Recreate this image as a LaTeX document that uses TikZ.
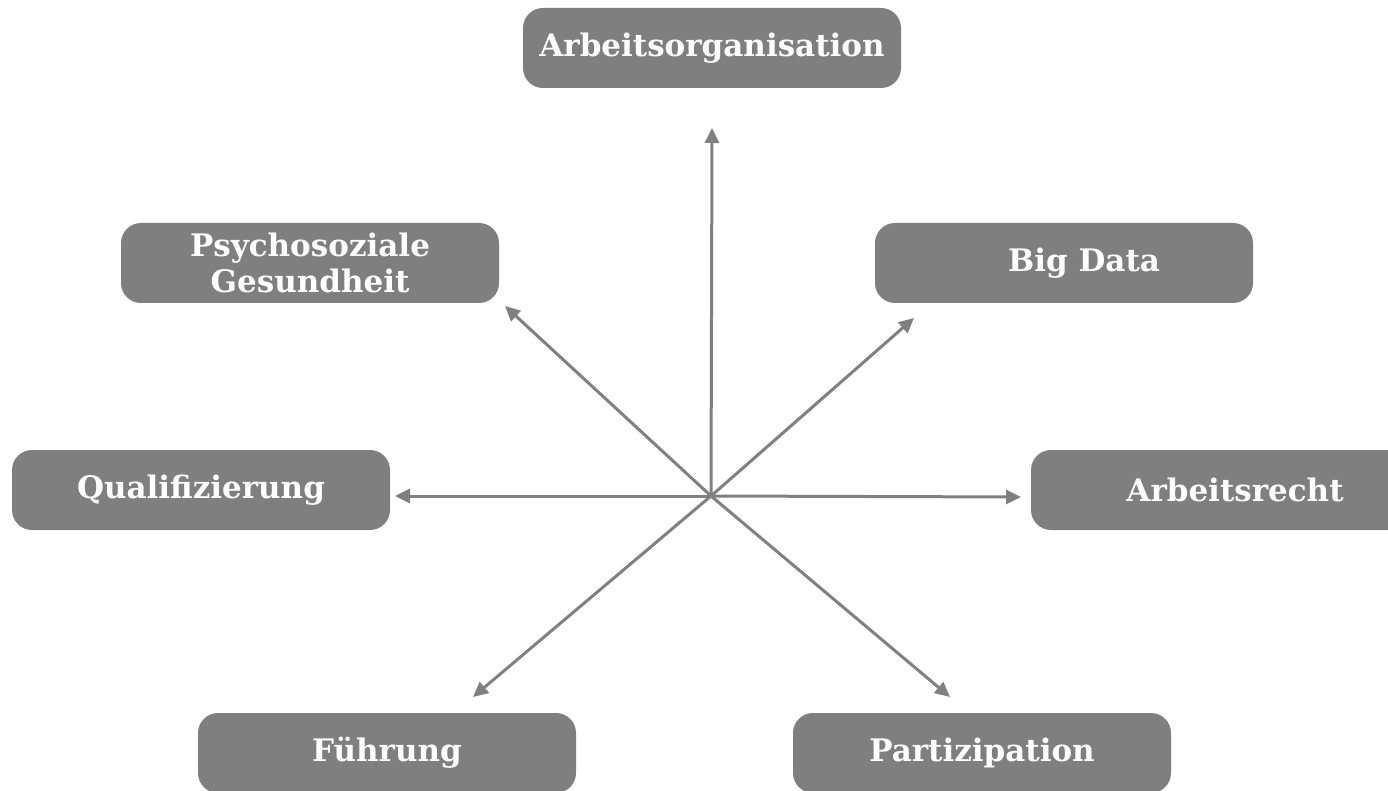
\documentclass[tikz,border=0pt]{standalone}
\usepackage{fontspec}
\setmainfont{DejaVu Serif}
\usetikzlibrary{arrows.meta}
\definecolor{boxgray}{HTML}{7F7F7F}
\definecolor{arrgray}{HTML}{808080}
\tikzset{
  topic/.style={fill=boxgray, rounded corners=20pt, minimum width=378pt, minimum height=80pt,
    inner sep=0pt, text=white, font=\bfseries\fontsize{31}{36}\selectfont, align=center},
  conn/.style={draw=arrgray, line width=3pt, -{Triangle[length=15pt,width=14pt]}}
}
\begin{document}
\begin{tikzpicture}[x=1pt,y=-1pt]
\useasboundingbox (0,0) rectangle (1388,791);
\node[topic] (ao) at (712,48) {Arbeitsorganisation};
\node[topic] (psy) at (310,263) {Psychosoziale\\Gesundheit};
\node[topic] (bd) at (1064,263) {\hspace*{40pt}Big Data};
\node[topic] (qu) at (201,490) {Qualifizierung};
\node[topic] (ar) at (1220,490) {\hspace*{30pt}Arbeitsrecht};
\node[topic] (fu) at (387,753) {Führung};
\node[topic] (pa) at (982,753) {Partizipation};
\coordinate (c) at (711,496);
\coordinate (tao) at (712,128);
\coordinate (tpsy) at (505,306);
\coordinate (tbd) at (914,318);
\coordinate (tqu) at (395,496);
\coordinate (tar) at (1021,497);
\coordinate (tfu) at (473,697);
\coordinate (tpa) at (950,697);
\foreach \t in {tao,tpsy,tbd,tqu,tar,tfu,tpa}
  \draw[conn] (c) -- (\t);
\end{tikzpicture}
\end{document}
